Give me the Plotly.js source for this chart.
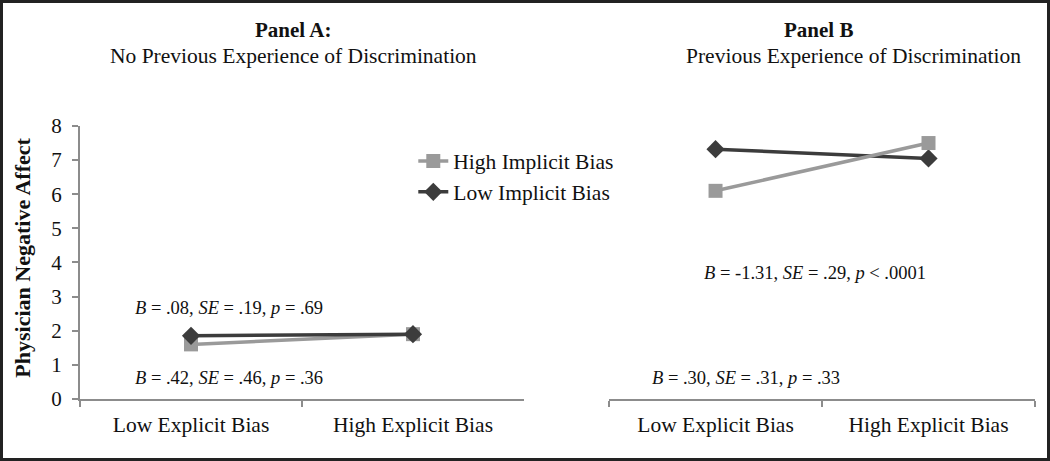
<!DOCTYPE html>
<html>
<head>
<meta charset="utf-8">
<script src="https://cdn.plot.ly/plotly-3.0.1.min.js"></script>
<style>
  html, body { margin: 0; padding: 0; background: #fff; }
  #frame { width: 1050px; height: 461px; box-sizing: border-box; border: 3px solid #222; }
  #chart { width: 1044px; height: 455px; }
</style>
</head>
<body>
<div id="frame"><div id="chart"></div></div>
<script>
var categories = ['Low Explicit Bias', 'High Explicit Bias'];
var seriesNames = ['High Implicit Bias', 'Low Implicit Bias'];
// Panel A: no previous experience of discrimination
var panelA_high = [1.6, 1.9];
var panelA_low = [1.85, 1.9];
// Panel B: previous experience of discrimination
var panelB_high = [6.1, 7.5];
var panelB_low = [7.32, 7.05];
var yTicks = [0, 1, 2, 3, 4, 5, 6, 7, 8];

var serif = 'Liberation Serif, Times New Roman, serif';
var lightGrey = '#9a9a9a';
var darkGrey = '#3c3c3c';
var ink = '#111';

function makeTrace(y, name, color, symbol, size, xa, show) {
  return {
    x: categories, y: y, name: name,
    type: 'scatter', mode: 'lines+markers',
    xaxis: xa, yaxis: 'y',
    line: {color: color, width: 3.5},
    marker: {color: color, symbol: symbol, size: size},
    showlegend: show
  };
}

var data = [
  makeTrace(panelA_high, seriesNames[0], lightGrey, 'square', 14, 'x', true),
  makeTrace(panelA_low, seriesNames[1], darkGrey, 'diamond', 14, 'x', true),
  makeTrace(panelB_low, seriesNames[1], darkGrey, 'diamond', 14, 'x2', false),
  makeTrace(panelB_high, seriesNames[0], lightGrey, 'square', 14, 'x2', false)
];

var xAxisBase = {
  type: 'category', range: [-0.5, 1.5],
  showline: true, linecolor: '#8c8c8c', linewidth: 2,
  ticks: 'outside', tickson: 'boundaries', ticklen: 6, tickcolor: '#8c8c8c', tickwidth: 2,
  showgrid: false, zeroline: false, ticklabelstandoff: 5,
  tickfont: {family: serif, size: 21.5, color: ink}
};

function note(text, xref, x, y, size, extra) {
  return Object.assign({
    text: text, xref: xref, yref: xref === 'paper' ? 'paper' : 'y',
    x: x, y: y, xanchor: 'center', yanchor: 'middle', showarrow: false,
    font: {family: serif, size: size, color: ink}
  }, extra || {});
}

var layout = {
  width: 1044, height: 455,
  margin: {l: 0, r: 0, t: 0, b: 0},
  paper_bgcolor: '#fff', plot_bgcolor: '#fff',
  xaxis: Object.assign({}, xAxisBase, {domain: [0.0738, 0.499], anchor: 'y'}),
  xaxis2: Object.assign({}, xAxisBase, {domain: [0.5805, 0.9885], anchor: 'y'}),
  yaxis: {
    domain: [0.1297, 0.7297], range: [0, 8],
    tickvals: yTicks,
    showline: true, linecolor: '#8c8c8c', linewidth: 2,
    ticks: 'outside', ticklen: 6, tickcolor: '#8c8c8c', tickwidth: 2,
    showgrid: false, zeroline: false, ticklabelstandoff: 6,
    tickfont: {family: serif, size: 21, color: ink}
  },
  legend: {
    x: 0.393, y: 0.698, xanchor: 'left', yanchor: 'top',
    font: {family: serif, size: 21.5, color: ink},
    bgcolor: 'rgba(0,0,0,0)', tracegroupgap: 0
  },
  annotations: [
    note('<b>Panel A:</b>', 'paper', 0.278, 0.940, 21),
    note('No Previous Experience of Discrimination', 'paper', 0.278, 0.883, 21.5),
    note('<b>Panel B</b>', 'paper', 0.781, 0.940, 21),
    note('Previous Experience of Discrimination', 'paper', 0.815, 0.883, 21.5),
    note('<b>Physician Negative Affect</b>', 'paper', 0.019, 0.44, 22, {textangle: -90}),
    note('<i>B</i> = .08, <i>SE</i> = .19, <i>p</i> = .69', 'x', 0.17, 2.67, 18.5),
    note('<i>B</i> = .42, <i>SE</i> = .46, <i>p</i> = .36', 'x', 0.17, 0.62, 18.5),
    note('<i>B</i> = -1.31, <i>SE</i> = .29, <i>p</i> < .0001', 'x2', 0.467, 3.7, 18.5),
    note('<i>B</i> = .30, <i>SE</i> = .31, <i>p</i> = .33', 'x2', 0.143, 0.61, 18.5)
  ]
};

Plotly.newPlot('chart', data, layout, {displayModeBar: false, staticPlot: true});
</script>
</body>
</html>
